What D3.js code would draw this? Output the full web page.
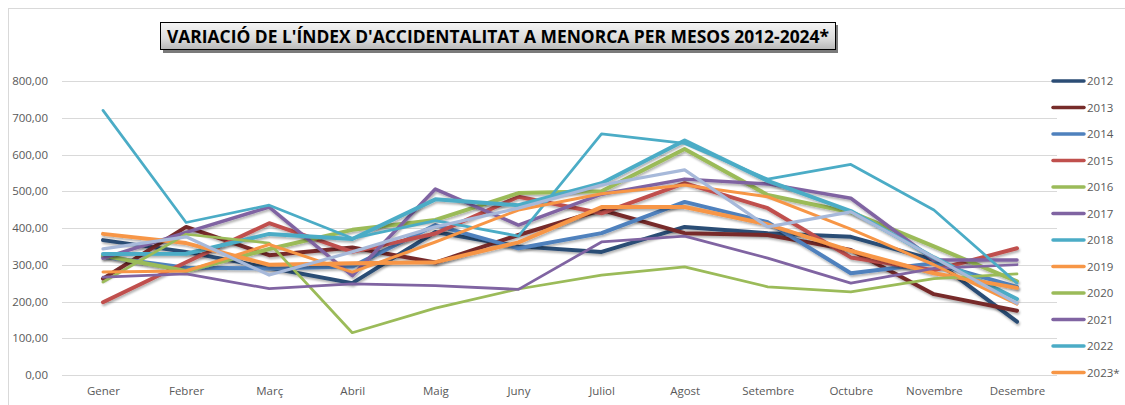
<!DOCTYPE html>
<html>
<head>
<meta charset="utf-8">
<script src="https://cdn.jsdelivr.net/npm/d3@7"></script>
<style>
  body { margin: 0; background: #fff; }
  svg text { font-family: "Open Sans", "Noto Sans", sans-serif; }
</style>
</head>
<body>
<svg id="chart" width="1125" height="405"></svg>
<script>
// months on the x axis
var months = ["Gener", "Febrer", "Març", "Abril", "Maig", "Juny", "Juliol", "Agost", "Setembre", "Octubre", "Novembre", "Desembre"];
var yTicks = [0, 100, 200, 300, 400, 500, 600, 700, 800];

// values per year
var y2012 = [367, 335, 292, 250, 389, 350, 335, 403, 386, 376, 313, 145];
var y2013 = [262, 403, 326, 347, 306, 381, 449, 386, 381, 340, 220, 175];
var y2014 = [322, 292, 290, 295, 408, 345, 386, 471, 416, 277, 304, 240];
var y2015 = [198, 307, 413, 335, 385, 485, 440, 522, 454, 320, 285, 345];
var y2016 = [325, 283, 343, 395, 422, 495, 500, 615, 490, 443, 350, 255];
var y2017 = [318, 388, 457, 270, 506, 408, 492, 533, 520, 481, 313, 313];
var y2018 = [329, 330, 384, 370, 478, 462, 522, 638, 528, 446, 320, 207];
var y2019 = [384, 359, 300, 304, 307, 361, 457, 457, 410, 338, 277, 237];
var y2020 = [253, 383, 359, 115, 182, 234, 272, 294, 240, 226, 262, 275];
var y2021 = [266, 275, 235, 248, 243, 233, 362, 378, 318, 250, 290, 300];
var y2022 = [720, 415, 462, 372, 420, 378, 656, 630, 533, 573, 449, 250];
var y2023 = [280, 283, 355, 280, 362, 449, 493, 517, 485, 397, 300, 193];
var y2024 = [343, 376, 272, 335, 403, 454, 517, 558, 403, 444, 320, 195];

var years = ["2012", "2013", "2014", "2015", "2016", "2017", "2018", "2019", "2020", "2021", "2022", "2023*", "2024*"];
var values = [y2012, y2013, y2014, y2015, y2016, y2017, y2018, y2019, y2020, y2021, y2022, y2023, y2024];

// styles
var colours = ["#2C4D75", "#772C2A", "#4F81BD", "#C0504D", "#9BBB59", "#8064A2", "#4BACC6", "#F79646",
               "#9BBB59", "#8064A2", "#4BACC6", "#F79646", "#A7B9DA"];
var widths = [4, 4, 4, 4, 4, 3.5, 4, 4, 2.75, 2.75, 2.75, 3, 3.25];

var svg = d3.select("#chart");

// shadow like excel lines
var defs = svg.append("defs");
defs.append("filter").attr("id", "shadow")
    .attr("x", "-5%").attr("y", "-20%").attr("width", "110%").attr("height", "140%")
    .append("feDropShadow")
    .attr("dx", 1).attr("dy", 2).attr("stdDeviation", 1.2)
    .attr("flood-color", "#000").attr("flood-opacity", 0.3);

var grad = defs.append("linearGradient").attr("id", "titleGrad")
    .attr("x1", 0).attr("y1", 0).attr("x2", 0).attr("y2", 1);
grad.append("stop").attr("offset", "0%").attr("stop-color", "#f4f4f4");
grad.append("stop").attr("offset", "60%").attr("stop-color", "#dcdcdc");
grad.append("stop").attr("offset", "100%").attr("stop-color", "#b8b8b8");

// chart area border
svg.append("rect")
    .attr("x", 8.5).attr("y", 8.5)
    .attr("width", 1130).attr("height", 410)
    .attr("fill", "none").attr("stroke", "#d9d9d9");

// scales
var x = d3.scalePoint().domain(months).range([103, 1017]);
var y = d3.scaleLinear().domain([0, 800]).range([375, 81]);

// gridlines
svg.append("g")
    .selectAll("line")
    .data(yTicks)
    .enter().append("line")
    .attr("x1", 62).attr("x2", 1057)
    .attr("y1", d => Math.round(y(d)) + 0.5)
    .attr("y2", d => Math.round(y(d)) + 0.5)
    .attr("stroke", "#d9d9d9")
    .attr("stroke-width", 1);

// y axis labels
var fmt = d => d3.format(".2f")(d).replace(".", ",");
var yAxis = svg.append("g")
    .attr("transform", "translate(48,0)")
    .call(d3.axisLeft(y).tickValues(yTicks).tickFormat(fmt).tickSize(0).tickPadding(0));
yAxis.select(".domain").remove();
yAxis.selectAll("text")
    .style("font-size", "11.5px")
    .attr("fill", "#595959");

// x axis labels
var xAxis = svg.append("g")
    .attr("transform", "translate(0,387)")
    .call(d3.axisBottom(x).tickSize(0).tickPadding(0));
xAxis.select(".domain").remove();
xAxis.selectAll("text")
    .style("font-size", "11.5px")
    .attr("fill", "#595959");

// lines
var line = d3.line()
    .x((d, i) => x(months[i]))
    .y(d => y(d));

svg.append("g")
    .selectAll("path")
    .data(values)
    .enter().append("path")
    .attr("d", line)
    .attr("fill", "none")
    .attr("stroke", (d, i) => colours[i])
    .attr("stroke-width", (d, i) => widths[i])
    .attr("stroke-linejoin", "round")
    .attr("stroke-linecap", "round")
    .attr("filter", (d, i) => widths[i] >= 3.5 ? "url(#shadow)" : null);

// legend (only 12 entries fit, the last one is cut off)
var legendYears = years.slice(0, 12);
var legend = svg.append("g");
legend.selectAll("line")
    .data(legendYears)
    .enter().append("line")
    .attr("x1", 1053).attr("x2", 1084)
    .attr("y1", (d, i) => 81 + i * 26.5)
    .attr("y2", (d, i) => 81 + i * 26.5)
    .attr("stroke", (d, i) => colours[i])
    .attr("stroke-width", 3.5)
    .attr("stroke-linecap", "round");
legend.selectAll("text")
    .data(legendYears)
    .enter().append("text")
    .attr("x", 1087)
    .attr("y", (d, i) => 81 + i * 26.5 + 4)
    .style("font-size", "11.5px")
    .attr("fill", "#595959")
    .text(d => d);

// title box
svg.append("rect")
    .attr("x", 163).attr("y", 25)
    .attr("width", 675).attr("height", 28)
    .attr("fill", "#7a7a7a");
svg.append("rect")
    .attr("x", 160.5).attr("y", 22.5)
    .attr("width", 675).attr("height", 27)
    .attr("fill", "url(#titleGrad)")
    .attr("stroke", "#000").attr("stroke-width", 1);
svg.append("text")
    .attr("x", 498).attr("y", 43)
    .attr("text-anchor", "middle")
    .attr("textLength", 662)
    .attr("lengthAdjust", "spacingAndGlyphs")
    .style("font-size", "17px")
    .style("font-weight", "bold")
    .attr("fill", "#000")
    .text("VARIACIÓ DE L'ÍNDEX D'ACCIDENTALITAT A MENORCA PER MESOS 2012-2024*");
</script>
</body>
</html>
